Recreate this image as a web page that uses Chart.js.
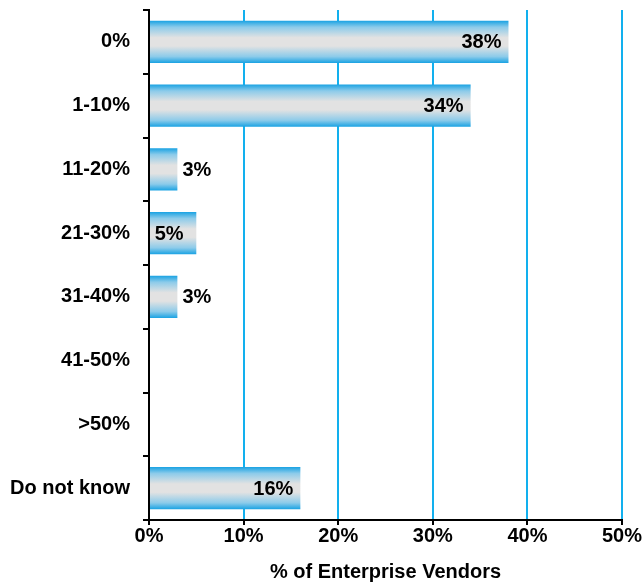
<!DOCTYPE html>
<html>
<head>
<meta charset="utf-8">
<script src="https://cdn.jsdelivr.net/npm/chart.js@4.4.1/dist/chart.umd.min.js"></script>
<style>
  html, body { margin: 0; padding: 0; background: #fff; }
  #wrap { width: 643px; height: 585px; position: relative; }
</style>
</head>
<body>
<div id="wrap"><canvas id="c"></canvas></div>
<script>
// Share of respondents by answer bucket
const categories = ['0%', '1-10%', '11-20%', '21-30%', '31-40%', '41-50%', '>50%', 'Do not know'];
const shares = [38, 34, 3, 5, 3, 0, 0, 16];
const axisTicks = [0, 10, 20, 30, 40, 50];
const axisTitle = '% of Enterprise Vendors';

const BLUE = '#1ba3e3';
const MID = '#8ccbea';
const GREY = '#e2e2e2';
const GRID = '#12b0ee';
const BAR_PCT = 0.66;
const FONT = '"Liberation Sans", Arial, sans-serif';
const FS = 20;

function barFill(ctx) {
  const chart = ctx.chart;
  const area = chart.chartArea;
  const yScale = chart.scales.y;
  if (!area || !yScale || ctx.type !== 'data') return BLUE;
  const cy = yScale.getPixelForValue(ctx.dataIndex);
  const half = (area.bottom - area.top) / categories.length * BAR_PCT / 2;
  const g = chart.ctx.createLinearGradient(0, cy - half, 0, cy + half);
  g.addColorStop(0, BLUE);
  g.addColorStop(0.15, MID);
  g.addColorStop(0.4, GREY);
  g.addColorStop(0.6, GREY);
  g.addColorStop(0.85, MID);
  g.addColorStop(1, BLUE);
  return g;
}

// Percentage labels: inside the end of long bars, after the end of short ones
const valueLabels = {
  id: 'valueLabels',
  afterDatasetsDraw(chart) {
    const c = chart.ctx;
    const meta = chart.getDatasetMeta(0);
    c.save();
    c.font = 'bold ' + FS + 'px ' + FONT;
    c.fillStyle = '#000';
    c.textBaseline = 'middle';
    meta.data.forEach((bar, i) => {
      const v = shares[i];
      if (!v) return;
      const txt = v + '%';
      const w = c.measureText(txt).width;
      const len = bar.x - bar.base;
      if (len > w + 30) {
        c.textAlign = 'right';
        c.fillText(txt, bar.x - 7, bar.y + 1);
      } else if (len > w + 8) {
        c.textAlign = 'center';
        c.fillText(txt, (bar.x + bar.base) / 2 - 4, bar.y + 1);
      } else {
        c.textAlign = 'left';
        c.fillText(txt, bar.x + 5, bar.y + 1);
      }
    });
    c.restore();
  }
};

new Chart(document.getElementById('c'), {
  type: 'bar',
  data: {
    labels: categories,
    datasets: [{
      data: shares,
      backgroundColor: barFill,
      borderWidth: 0,
      barPercentage: BAR_PCT,
      categoryPercentage: 1
    }]
  },
  options: {
    indexAxis: 'y',
    responsive: true,
    maintainAspectRatio: false,
    animation: false,
    layout: { padding: { top: 10, right: 21, bottom: 0, left: 0 } },
    plugins: { legend: { display: false }, tooltip: { enabled: false } },
    scales: {
      x: {
        min: 0,
        max: 50,
        afterBuildTicks(scale) { scale.ticks = axisTicks.map(v => ({ value: v })); },
        afterFit(scale) { scale.height = 65; },
        border: { display: true, color: '#000', width: 2 },
        grid: {
          drawOnChartArea: true,
          drawTicks: true,
          tickLength: 5,
          tickColor: '#000',
          tickWidth: 2,
          color: ctx => (ctx.tick && ctx.tick.value === 0 ? 'rgba(0,0,0,0)' : GRID),
          lineWidth: 2
        },
        ticks: {
          color: '#000',
          padding: -1,
          font: { family: FONT, size: FS, weight: 'bold' },
          callback: v => v + '%'
        },
        title: {
          display: true,
          text: axisTitle,
          color: '#000',
          padding: { top: 2, bottom: 1 },
          font: { family: FONT, size: FS, weight: 'bold' }
        }
      },
      y: {
        offset: true,
        afterFit(scale) {
          scale.width = 149;
          scale.paddingTop = 0;
          scale.paddingBottom = 0;
        },
        border: { display: true, color: '#000', width: 2 },
        grid: {
          offset: true,
          drawOnChartArea: false,
          drawTicks: true,
          tickLength: 6,
          color: '#000',
          lineWidth: 2
        },
        ticks: {
          color: '#000',
          padding: 13,
          font: { family: FONT, size: FS, weight: 'bold' }
        }
      }
    }
  },
  plugins: [valueLabels]
});
</script>
</body>
</html>
